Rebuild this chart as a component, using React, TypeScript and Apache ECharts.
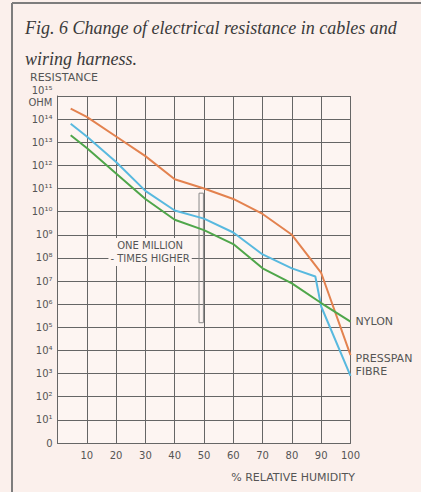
import React, { useEffect, useRef } from "react";
import * as echarts from "echarts";

const titleLines = [
  "Fig. 6 Change of electrical resistance in cables and",
  "wiring harness.",
];
const yAxisTitle = "RESISTANCE";
const yUnit = "OHM";
const xAxisTitle = "% RELATIVE HUMIDITY";

const humidity = [4.5, 10, 20, 30, 40, 50, 60, 70, 80, 90, 100];
const orangeLog = [14.45, 14.1, 13.25, 12.4, 11.4, 11.0, 10.55, 9.9, 9.0, 7.35, 3.8];
const greenLog = [13.3, 12.75, 11.65, 10.55, 9.65, 9.2, 8.6, 7.55, 6.9, 6.05, 5.25];
const blueHumidity = [4.5, 10, 20, 30, 40, 50, 60, 70, 80, 88, 90, 100];
const blueLog = [13.8, 13.25, 12.15, 10.9, 10.05, 9.7, 9.1, 8.15, 7.55, 7.2, 5.9, 2.9];

const nylonLabel = "NYLON";
const presspanLabel = "PRESSPAN\nFIBRE";
const noteLabel = "ONE MILLION\n- TIMES HIGHER";
const bracketRange = { x0: 48.3, x1: 49.8, y0: 5.2, y1: 10.8 };
const notePos = [31.6, 8.26];

const sup = ["⁰", "¹", "²", "³", "⁴", "⁵", "⁶", "⁷", "⁸", "⁹"];
const toSup = (n: number) =>
  String(n)
    .split("")
    .map((d) => sup[Number(d)])
    .join("");

const PAGE_BG = "#fbf0ec";
const PLOT_BG = "#fdf5f2";
const TEXT = "#555";
const SANS = "DejaVu Sans";

export default function App() {
  const ref = useRef<HTMLDivElement>(null);
  useEffect(() => {
    if (!ref.current) return;
    const chart = echarts.init(ref.current, undefined, { renderer: "svg" });
    const pairs = (xs: number[], ys: number[]) => xs.map((x, i) => [x, ys[i]]);
    chart.setOption({
      animation: false,
      backgroundColor: PAGE_BG,
      textStyle: { fontFamily: SANS },
      grid: {
        left: 57.5,
        right: 70.5,
        top: 96,
        bottom: 49,
        show: true,
        backgroundColor: PLOT_BG,
        borderWidth: 0,
      },
      graphic: [
        { type: "line", shape: { x1: 12, y1: 3, x2: 421, y2: 3 }, style: { stroke: "#7d7d7d", lineWidth: 2 } },
        { type: "line", shape: { x1: 12, y1: 3, x2: 12, y2: 492 }, style: { stroke: "#7d7d7d", lineWidth: 2 } },
        {
          type: "text",
          x: 25,
          y: 28,
          style: {
            text: titleLines[0],
            font: "italic 18px 'Liberation Serif'",
            fill: "#3a3a3a",
            verticalAlign: "middle",
          },
        },
        {
          type: "text",
          x: 25,
          y: 59,
          style: {
            text: titleLines[1],
            font: "italic 18px 'Liberation Serif'",
            fill: "#3a3a3a",
            verticalAlign: "middle",
          },
        },
        {
          type: "text",
          x: 30,
          y: 77,
          style: {
            text: yAxisTitle,
            font: `11px '${SANS}'`,
            fill: TEXT,
            verticalAlign: "middle",
          },
        },
        {
          type: "text",
          x: 355,
          y: 477,
          style: {
            text: xAxisTitle,
            font: `11px '${SANS}'`,
            fill: TEXT,
            align: "right",
            verticalAlign: "middle",
          },
        },
      ],
      xAxis: {
        type: "value",
        min: 0,
        max: 100,
        interval: 10,
        axisLine: { show: true, lineStyle: { color: "#666", width: 1 } },
        axisTick: { show: false },
        axisLabel: {
          color: TEXT,
          fontSize: 10,
          margin: 7,
          formatter: (v: number) => (v === 0 ? "" : String(v)),
        },
        splitLine: { show: true, lineStyle: { color: "#666", width: 1 } },
      },
      yAxis: {
        type: "value",
        min: 0,
        max: 15,
        interval: 1,
        axisLine: { show: true, lineStyle: { color: "#666", width: 1 } },
        axisTick: { show: false },
        axisLabel: {
          color: TEXT,
          fontSize: 10,
          margin: 5,
          lineHeight: 12,
          formatter: (v: number) =>
            v === 0 ? "0" : v === 15 ? "10" + toSup(v) + "\n" + yUnit : "10" + toSup(v),
        },
        splitLine: { show: true, lineStyle: { color: "#666", width: 1 } },
      },
      series: [
        {
          type: "line",
          data: pairs(humidity, orangeLog),
          showSymbol: false,
          lineStyle: { color: "#e3824f", width: 2 },
          endLabel: {
            show: true,
            formatter: presspanLabel,
            color: TEXT,
            fontSize: 11,
            lineHeight: 13,
            distance: 5,
            offset: [0, 10],
            align: "left",
          },
          z: 3,
        },
        {
          type: "line",
          data: pairs(blueHumidity, blueLog),
          showSymbol: false,
          lineStyle: { color: "#58b9df", width: 2 },
          z: 3,
          markArea: {
            silent: true,
            itemStyle: { color: "rgba(0,0,0,0)", borderColor: "#8a8a8a", borderWidth: 1 },
            data: [
              [
                { xAxis: bracketRange.x0, yAxis: bracketRange.y0 },
                { xAxis: bracketRange.x1, yAxis: bracketRange.y1 },
              ],
            ],
          },
          markPoint: {
            silent: true,
            symbol: "rect",
            symbolSize: 1,
            itemStyle: { color: "rgba(0,0,0,0)" },
            label: {
              show: true,
              position: "inside",
              formatter: noteLabel,
              color: TEXT,
              fontSize: 10,
              lineHeight: 13,
              align: "center",
              backgroundColor: PLOT_BG,
              padding: [1, 2],
            },
            data: [{ coord: notePos }],
          },
        },
        {
          type: "line",
          data: pairs(humidity, greenLog),
          showSymbol: false,
          lineStyle: { color: "#4fa64a", width: 2 },
          endLabel: {
            show: true,
            formatter: nylonLabel,
            color: TEXT,
            fontSize: 11,
            distance: 5,
          },
          z: 3,
        },
      ],
    });
    return () => chart.dispose();
  }, []);
  return (
    <div
      ref={ref}
      style={{ position: "absolute", left: 0, top: 0, width: 421, height: 492 }}
    />
  );
}
